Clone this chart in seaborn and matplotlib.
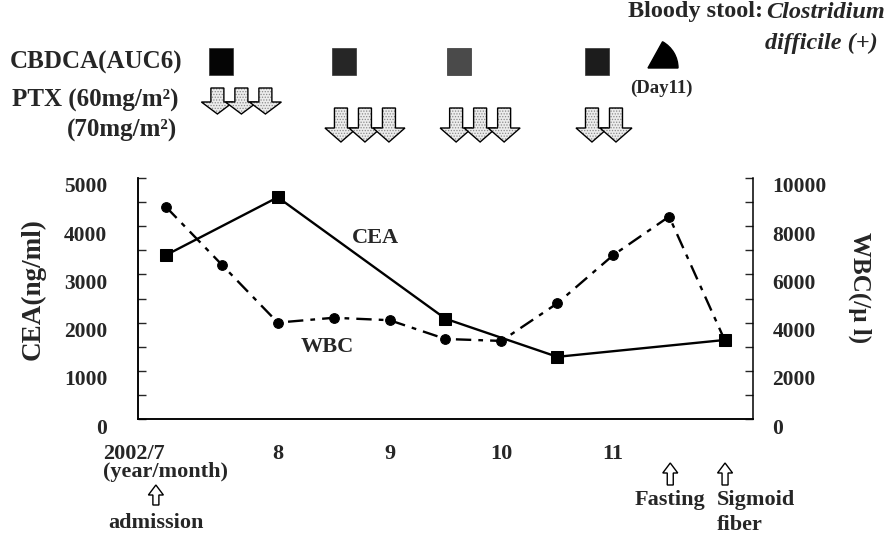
import matplotlib
matplotlib.use('Agg')
import matplotlib.pyplot as plt
import matplotlib.transforms as mtransforms
from matplotlib.patches import Polygon, Rectangle, Wedge
import seaborn as sns

# CEA (left axis, ng/ml) and WBC (right axis, /ul), x in half-month steps from 2002/7
cea_x = [0.5, 2.5, 5.5, 7.5, 10.5]
cea = [3400, 4600, 2080, 1290, 1640]
wbc_x = [0.5, 1.5, 2.5, 3.5, 4.5, 5.5, 6.5, 7.5, 8.5, 9.5, 10.5]
wbc = [8800, 6400, 4000, 4200, 4100, 3320, 3240, 4800, 6800, 8400, 3240]

month_pos = [0.5, 2.5, 4.5, 6.5, 8.5]
month_labels = ['2002/7\n(year/month)', '8', '9', '10', '11']

# treatment timeline
cbdca_x = [1.48, 3.69, 5.74, 8.21]
cbdca_colors = ['#050505', '#262626', '#4a4a4a', '#1c1c1c']
ptx_x = [1.42, 3.63, 5.69, 8.12]
ptx_n = [3, 3, 3, 2]
ptx_row = [0, 1, 1, 1]          # 0 = 60mg/m2, 1 = 70mg/m2
events_x = [0.32, 9.52, 10.5]   # admission, fasting, sigmoid fiber

sns.set_style('white')
plt.rcParams['font.family'] = ['Liberation Serif', 'DejaVu Serif']
plt.rcParams['font.weight'] = 'bold'
plt.rcParams['hatch.linewidth'] = 0.6

W, H = 887, 536
fig = plt.figure(figsize=(W / 100, H / 100), dpi=100)
ax = fig.add_axes([138 / W, 1 - 419 / H, 615 / W, 241 / H])
ax2 = ax.twinx()


def fy(py):
    return 1 - py / H


sns.lineplot(x=cea_x, y=cea, ax=ax, color='black', lw=1.7, marker='s', markersize=8,
             markeredgecolor='black', zorder=3)
sns.lineplot(x=wbc_x, y=wbc, ax=ax2, color='black', lw=1.7, marker='o', markersize=7,
             markeredgecolor='black', linestyle=(0, (6.5, 3, 2, 3)), zorder=3)

ax.set_xlim(0, 11)
ax.set_ylim(0, 5000)
ax2.set_ylim(0, 10000)

for a in (ax, ax2):
    a.spines['top'].set_visible(False)
    for s in a.spines.values():
        s.set_linewidth(1.1)
        s.set_color('black')
ax.spines['right'].set_visible(False)

ax.set_xticks(range(1, 11))
ax.set_xticklabels([])
ax.set_xticks(month_pos, month_labels, minor=True)
ax.tick_params(axis='x', which='major', direction='in', length=5, width=1)
ax.tick_params(axis='x', which='minor', length=0, pad=18, labelsize=16)
xl = ax.get_xticklabels(minor=True)[0]
xl.set_multialignment('left')
xl.set_linespacing(0.85)

ax.set_yticks(range(0, 5001, 1000))
ax.set_yticks(range(500, 5000, 1000), minor=True)
ax.tick_params(axis='y', which='both', direction='in', length=6, width=1, pad=22, labelsize=15.5)
ax2.set_yticks(range(0, 10001, 2000))
ax2.set_yticks(range(1000, 10000, 2000), minor=True)
ax2.tick_params(axis='y', which='both', direction='in', length=6, width=1, pad=14, labelsize=15.5)

# tick labels sit a little below their ticks in the original
shift = mtransforms.ScaledTranslation(0, -0.07, fig.dpi_scale_trans)
for lab in ax.get_yticklabels() + ax2.get_yticklabels():
    lab.set_transform(lab.get_transform() + shift)

ax.set_xlabel('')
ax.set_ylabel('CEA(ng/ml)', fontsize=19.5, fontweight='bold')
ax.yaxis.set_label_coords(-0.151, 0.539)
ax2.set_ylabel('WBC(/μ l)', fontsize=18, fontweight='bold', rotation=270, va='bottom')
ax2.yaxis.set_label_coords(1.154, 0.544)

ax.text(4.24, 3755, 'CEA', fontsize=16, ha='center', va='center')
ax.text(3.38, 1494, 'WBC', fontsize=16, ha='center', va='center')

# --- treatment schedule above the chart ---
bt = mtransforms.blended_transform_factory(ax.transData, fig.transFigure)
ppx = 615 / 11  # pixels per x unit

fig.text(10 / W, fy(62), 'CBDCA(AUC6)', fontsize=18, va='center', ha='left')
fig.text(12 / W, fy(100), 'PTX (60mg/m²)', fontsize=18, va='center', ha='left')
fig.text(177 / W, fy(130), '(70mg/m²)', fontsize=18, va='center', ha='right')

for x, c in zip(cbdca_x, cbdca_colors):
    ax.add_patch(Rectangle((x - 12 / ppx, fy(75)), 24 / ppx, 27 / H, transform=bt,
                           facecolor=c, edgecolor='#333333', lw=0.5, clip_on=False))


def arrow_down(xc, top, base, tip):
    sw, hw = 6.5 / ppx, 16 / ppx
    return [(xc - sw, fy(top)), (xc + sw, fy(top)), (xc + sw, fy(base)), (xc + hw, fy(base)),
            (xc, fy(tip)), (xc - hw, fy(base)), (xc - sw, fy(base))]


rows = [(88, 102, 114), (108, 128, 142)]
z = 5
for x0, n, r in zip(ptx_x, ptx_n, ptx_row):
    top, base, tip = rows[r]
    for k in range(n):
        pts = arrow_down(x0 + k * 24 / ppx, top, base, tip)
        ax.add_patch(Polygon(pts, closed=True, transform=bt, facecolor='#ececec',
                             edgecolor='#8a8a8a', hatch='......', lw=0, clip_on=False, zorder=z))
        ax.add_patch(Polygon(pts, closed=True, transform=bt, facecolor='none',
                             edgecolor='black', lw=1.0, clip_on=False, zorder=z + 1))
        z += 2

ax.add_patch(Wedge((6.48, (H - 68) / 100), 0.30, 0, 61, transform=fig.dpi_scale_trans,
                   facecolor='black', edgecolor='black', clip_on=False))
fig.text(661 / W, fy(88), '(Day11)', fontsize=13.5, ha='center', va='center')
fig.text(763 / W, fy(17.5), 'Bloody stool:', fontsize=17.5, ha='right', va='baseline')
fig.text(885 / W, fy(17.5), 'Clostridium', fontsize=17.5, ha='right', va='baseline',
         style='italic')
fig.text(878 / W, fy(49), 'difficile (+)', fontsize=17.5, ha='right', va='baseline',
         style='italic')


# --- events below the chart ---
def arrow_up(xc, top, bottom):
    sw, hw = 3 / ppx, 7.5 / ppx
    base = top + 10
    return [(xc, fy(top)), (xc + hw, fy(base)), (xc + sw, fy(base)), (xc + sw, fy(bottom)),
            (xc - sw, fy(bottom)), (xc - sw, fy(base)), (xc - hw, fy(base))]


ev_y = [(485, 505), (463, 485), (463, 485)]
for x, (t, b) in zip(events_x, ev_y):
    ax.add_patch(Polygon(arrow_up(x, t, b), closed=True, transform=bt, facecolor='white',
                         edgecolor='black', lw=1.0, clip_on=False))

ax.text(events_x[0], fy(523), 'admission', transform=bt, fontsize=16, ha='center', va='center')
ax.text(events_x[1], fy(500), 'Fasting', transform=bt, fontsize=16, ha='center', va='center')
ax.text(events_x[2] - 8 / ppx, fy(500), 'Sigmoid', transform=bt, fontsize=16,
        ha='left', va='center')
ax.text(events_x[2] - 8 / ppx, fy(525), 'fiber', transform=bt, fontsize=16,
        ha='left', va='center')

fig.savefig('out.png', dpi=100)
